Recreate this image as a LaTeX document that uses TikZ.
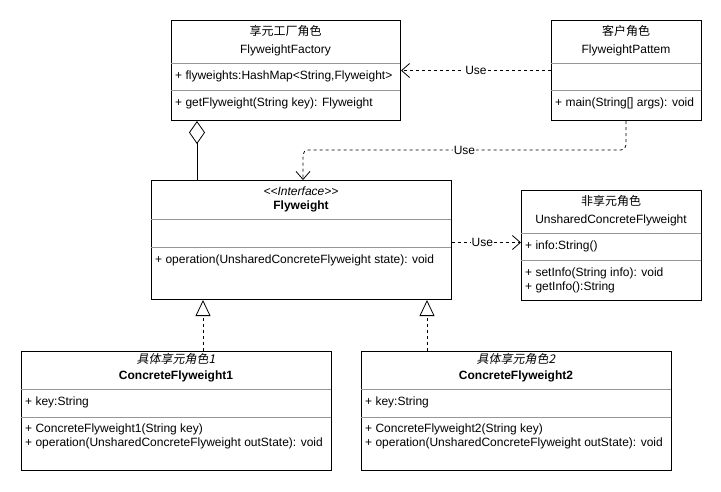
\documentclass[tikz,border=0pt]{standalone}
\usepackage{fontspec}
\setmainfont{Liberation Sans}
\newfontfamily\cjk{Noto Sans CJK SC}
\newfontfamily\cjkit[FakeSlant=0.2]{Noto Sans CJK SC}
\usetikzlibrary{arrows.meta,calc}
\definecolor{divgray}{RGB}{150,150,150}
\tikzset{
  umlbox/.style={draw=black, line width=1pt, fill=white, inner sep=0pt, anchor=north west},
  divider/.style={draw=divgray, line width=0.8pt},
  txt/.style={inner sep=0pt, font=\fontsize{12}{14}\selectfont},
  member/.style={txt, anchor=mid west},
  head/.style={txt, anchor=mid},
  uses/.style={draw=black, line width=0.8pt, dash pattern=on 3pt off 3pt,
    -{Straight Barb[length=8pt,width=14pt,line width=0.8pt]}},
  uselabel/.style={txt, fill=white, inner sep=1pt},
  realize/.style={draw=black, line width=0.8pt, dash pattern=on 3pt off 3pt,
    -{Triangle[open,length=16pt,width=15pt,line width=0.8pt,fill=white]}},
  aggregate/.style={draw=black, line width=0.8pt,
    -{Diamond[open,length=23pt,width=16pt,line width=0.8pt,fill=white]}}
}
\begin{document}
\begin{tikzpicture}[x=1pt,y=-1pt]
\useasboundingbox (0,0) rectangle (721,491);

% FlyweightFactory
\node[umlbox, minimum width=229pt, minimum height=100pt] (fac) at (171,20) {};
\draw[divider] (171,63) -- (400,63);
\draw[divider] (171,90) -- (400,90);
\node[head] (facname1) at (285.5,33) {\cjk 享元工厂角色};
\node[head] (facname2) at (285.5,51) {FlyweightFactory};
\node[member] (facattr) at (175,77) {+ flyweights:HashMap<String,Flyweight>};
\node[member] (facop) at (175,104) {+ getFlyweight(String key): Flyweight};

% Client
\node[umlbox, minimum width=150pt, minimum height=100pt] (cli) at (551,20) {};
\draw[divider] (551,63) -- (701,63);
\draw[divider] (551,90) -- (701,90);
\node[head] (cliname1) at (626,33) {\cjk 客户角色};
\node[head] (cliname2) at (626,51) {FlyweightPattem};
\node[member] (cliop) at (555,104) {+ main(String[] args): void};

% Flyweight interface
\node[umlbox, minimum width=300pt, minimum height=119pt] (fw) at (151,180) {};
\draw[divider] (151,219) -- (451,219);
\draw[divider] (151,247) -- (451,247);
\node[head] (fwst) at (301,193) {\itshape <{}<Interface>{}>};
\node[head] (fwname) at (301,207) {\bfseries Flyweight};
\node[member] (fwop) at (155,261) {+ operation(UnsharedConcreteFlyweight state): void};

% UnsharedConcreteFlyweight
\node[umlbox, minimum width=180pt, minimum height=110pt] (un) at (521,190) {};
\draw[divider] (521,233) -- (701,233);
\draw[divider] (521,260) -- (701,260);
\node[head] (unname1) at (611,203) {\cjk 非享元角色};
\node[head] (unname2) at (611,221) {UnsharedConcreteFlyweight};
\node[member] (unattr) at (525,247) {+ info:String()};
\node[member] (unop1) at (525,274) {+ setInfo(String info): void};
\node[member] (unop2) at (525,288) {+ getInfo():String};

% ConcreteFlyweight1
\node[umlbox, minimum width=310pt, minimum height=119pt] (c1) at (21,351) {};
\draw[divider] (21,389) -- (331,389);
\draw[divider] (21,417) -- (331,417);
\node[head] (c1name1) at (176,361) {\cjkit 具体享元角色1};
\node[head] (c1name2) at (176,377) {\bfseries ConcreteFlyweight1};
\node[member] (c1attr) at (25,403) {+ key:String};
\node[member] (c1op1) at (25,430) {+ ConcreteFlyweight1(String key)};
\node[member] (c1op2) at (25,444) {+ operation(UnsharedConcreteFlyweight outState): void};

% ConcreteFlyweight2
\node[umlbox, minimum width=310pt, minimum height=119pt] (c2) at (361,351) {};
\draw[divider] (361,389) -- (671,389);
\draw[divider] (361,417) -- (671,417);
\node[head] (c2name1) at (516,361) {\cjkit 具体享元角色2};
\node[head] (c2name2) at (516,377) {\bfseries ConcreteFlyweight2};
\node[member] (c2attr) at (365,403) {+ key:String};
\node[member] (c2op1) at (365,430) {+ ConcreteFlyweight2(String key)};
\node[member] (c2op2) at (365,444) {+ operation(UnsharedConcreteFlyweight outState): void};

% Relations
\draw[aggregate] (fw.north -| 197,0) -- (fac.south -| 197,0);
\draw[uses] (cli.west) -- node[uselabel] (use1) {Use} (fac.east);
\draw[uses, rounded corners=5pt] (cli.south -| 626,0) -- (626,150)
  -- node[uselabel, pos=0.5] (use2) {Use} (303,150) -- (fw.north -| 303,0);
\draw[uses] ([yshift=-2.5pt]fw.east) -- node[uselabel, pos=0.44] (use3) {Use}
  ([yshift=-2.5pt]fw.east -| un.west);
\draw[realize] (c1.north -| 203,0) -- (fw.south -| 203,0);
\draw[realize] (c2.north -| 427,0) -- (fw.south -| 427,0);
\end{tikzpicture}
\end{document}
